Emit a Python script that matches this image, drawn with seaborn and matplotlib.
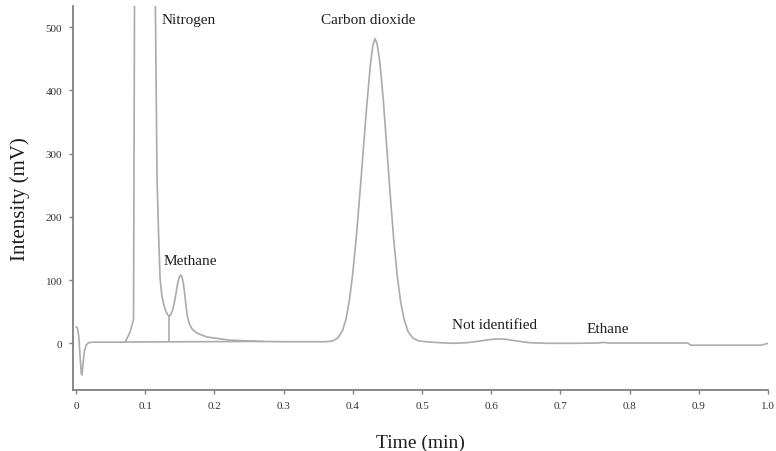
import numpy as np
import pandas as pd
import matplotlib
matplotlib.use("Agg")
import matplotlib.pyplot as plt
import seaborn as sns

# chromatogram trace (time in min, intensity in mV)
time_min = [0.0, 0.002, 0.004, 0.006, 0.0075, 0.0085, 0.010, 0.012, 0.0145, 0.018,
            0.025, 0.060, 0.071, 0.078, 0.083, 0.0846, 0.099, 0.1140, 0.117,
            0.119, 0.1214, 0.1240, 0.1270, 0.1300, 0.1325, 0.1348, 0.1370,
            0.1395, 0.1420, 0.1445, 0.1470, 0.1495, 0.1513, 0.1530, 0.1550,
            0.1570, 0.1590, 0.1610, 0.1640, 0.1680, 0.1749, 0.1890, 0.2225,
            0.266, 0.30, 0.34, 0.360, 0.370, 0.378, 0.385, 0.390, 0.395, 0.400,
            0.405, 0.410, 0.415, 0.420, 0.425, 0.429, 0.432, 0.435, 0.439,
            0.444, 0.449, 0.454, 0.459, 0.464, 0.469, 0.474, 0.480, 0.487,
            0.495, 0.505, 0.525, 0.545, 0.565, 0.580, 0.595, 0.608, 0.620,
            0.635, 0.655, 0.68, 0.72, 0.755, 0.762, 0.77, 0.884, 0.888, 0.99, 1.0]
intensity_mv = [26, 24, 10, -25, -48, -50, -32, -12, -3, 1,
                1.8, 1.8, 2, 18, 38, 600, 1800, 600, 260,
                181, 102, 75, 60, 50, 45, 43, 46,
                53, 64, 80, 96, 106, 108, 105, 95,
                78, 58, 42, 30, 22, 16, 10, 5,
                3, 2.5, 2.5, 2.5, 3.5, 8, 20, 38, 68, 112,
                168, 235, 305, 375, 437, 472, 482, 474, 445,
                385, 310, 235, 165, 108, 66, 38, 18, 8,
                4, 2.5, 1, 0, 1, 3, 5.5, 7, 6.5,
                4, 1, 0, 0, 0.5, 1.5, 0.5, 0.5, -3, -3, 0]

# integrator baseline and drop line under the methane valley
base_time = [0.071, 0.27]
base_mv = [2, 3]
drop_time = [0.1348, 0.1348]
drop_mv = [43, 3]

peak_names = ["Nitrogen", "Methane", "Carbon dioxide", "Not identified", "Ethane"]
label_x = [0.123, 0.126, 0.354, 0.543, 0.737]
label_y = [513, 131, 513, 29, 23]

x_ticks = [0, 0.1, 0.2, 0.3, 0.4, 0.5, 0.6, 0.7, 0.8, 0.9, 1.0]
x_tick_labels = ["0", "0.1", "0.2", "0.3", "0.4", "0.5", "0.6", "0.7", "0.8", "0.9", "1.0"]
y_ticks = [0, 100, 200, 300, 400, 500]

sns.set_style("ticks")
plt.rcParams["font.family"] = ["Liberation Serif", "DejaVu Serif"]

trace = pd.DataFrame({"time": time_min, "mv": intensity_mv})
base = pd.DataFrame({"time": base_time, "mv": base_mv})
drop = pd.DataFrame({"time": drop_time, "mv": drop_mv})

fig = plt.figure(figsize=(7.76, 4.52), dpi=100)
ax = fig.add_axes([0.0945, 0.1356, 0.8952, 0.849])

line_col = "#ababab"
for df in (base, drop, trace):
    sns.lineplot(data=df, x="time", y="mv", ax=ax, color=line_col, linewidth=1.2,
                 estimator=None, sort=False)

for name, lx, ly in zip(peak_names, label_x, label_y):
    ax.text(lx, ly, name, fontsize=11, ha="left", va="center", color="#1e1e1e")

ax.set_xlim(-0.004, 1.0)
ax.set_ylim(-73.4, 533.7)
ax.set_xticks(x_ticks)
ax.set_xticklabels(x_tick_labels)
ax.set_yticks(y_ticks)
ax.tick_params(labelsize=8, length=3, width=1, colors="#808080", labelcolor="#333333", pad=5)

for side in ["left", "bottom"]:
    ax.spines[side].set_color("#808080")
    ax.spines[side].set_linewidth(1.3)
sns.despine(ax=ax)

ax.set_xlabel("Time (min)", fontsize=14, labelpad=17, color="#1e1e1e")
ax.set_ylabel("Intensity (mV)", fontsize=15, labelpad=11, color="#1e1e1e")

fig.savefig("out.png", dpi=100)
